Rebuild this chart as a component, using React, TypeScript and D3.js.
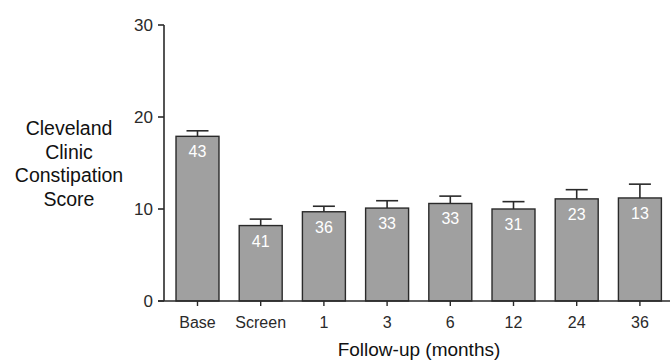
import React from "react";
import * as d3 from "d3";

// Follow-up time points
const categories = ["Base", "Screen", "1", "3", "6", "12", "24", "36"];
// Mean Cleveland Clinic Constipation Score at each time point
const means = [17.9, 8.2, 9.7, 10.1, 10.6, 10.0, 11.1, 11.2];
// Upper error (mean + SEM)
const upper = [18.5, 8.9, 10.3, 10.9, 11.4, 10.8, 12.1, 12.7];
// Number of patients at each time point
const counts = [43, 41, 36, 33, 33, 31, 23, 13];
const yTicks = [0, 10, 20, 30];
const yLabelLines = ["Cleveland", "Clinic", "Constipation", "Score"];

const W = 670;
const H = 363;
const axisX = 164;
const axisY = 301;
const topY = 25;

export default function App() {
  const y = d3.scaleLinear().domain([0, 30]).range([axisY, topY]);
  const x = d3
    .scaleBand<string>()
    .domain(categories)
    .range([axisX, 673.4])
    .paddingInner(0.32)
    .paddingOuter(0.19);
  const bw = x.bandwidth();
  const font = "'Liberation Sans', Arial, sans-serif";
  const ink = "#2a2a2a";

  return (
    <svg
      width={W}
      height={H}
      style={{ position: "absolute", left: 0, top: 0, background: "#fff" }}
      fontFamily={font}
    >
      {/* bars */}
      {categories.map((c, i) => {
        const x0 = x(c)!;
        const cx = x0 + bw / 2;
        return (
          <g key={c}>
            <line x1={cx} x2={cx} y1={y(means[i])} y2={y(upper[i])} stroke={ink} strokeWidth={1.6} />
            <line x1={cx - 11} x2={cx + 11} y1={y(upper[i])} y2={y(upper[i])} stroke={ink} strokeWidth={1.6} />
            <rect
              x={x0}
              y={y(means[i])}
              width={bw}
              height={axisY - y(means[i])}
              fill="#a0a0a0"
              stroke={ink}
              strokeWidth={1.4}
            />
            <text x={cx} y={y(means[i]) + 21} textAnchor="middle" fontSize={16} fill="#fff">
              {counts[i]}
            </text>
            <line x1={cx} x2={cx} y1={axisY} y2={axisY + 5} stroke={ink} strokeWidth={1.4} />
            <text x={cx} y={axisY + 27} textAnchor="middle" fontSize={16} fill={ink}>
              {c}
            </text>
          </g>
        );
      })}

      {/* axes */}
      <line x1={axisX} x2={axisX} y1={topY} y2={axisY} stroke={ink} strokeWidth={1.6} />
      <line x1={axisX - 6} x2={670} y1={axisY} y2={axisY} stroke={ink} strokeWidth={1.6} />
      {yTicks.map((t) => (
        <g key={t}>
          <line x1={axisX - 6} x2={axisX} y1={y(t)} y2={y(t)} stroke={ink} strokeWidth={1.6} />
          <text x={axisX - 11} y={y(t) + 6} textAnchor="end" fontSize={17} fill={ink}>
            {t}
          </text>
        </g>
      ))}

      {/* axis titles */}
      {yLabelLines.map((l, i) => (
        <text key={l} x={69} y={135 + i * 23.7} textAnchor="middle" fontSize={19.5} fill="#111">
          {l}
        </text>
      ))}
      <text x={419} y={356} textAnchor="middle" fontSize={19} fill="#111">
        Follow-up (months)
      </text>
    </svg>
  );
}
